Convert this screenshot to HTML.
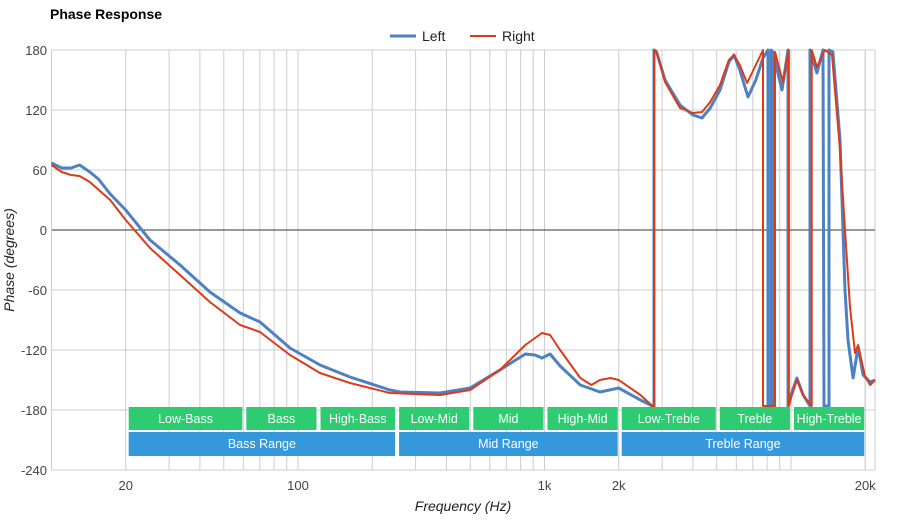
<!DOCTYPE html>
<html><head><meta charset="utf-8"><style>
body{margin:0;background:#fff;font-family:"Liberation Sans",sans-serif}
svg text{font-family:"Liberation Sans",sans-serif}
</style></head><body>
<svg id="chart" width="900" height="520" xmlns="http://www.w3.org/2000/svg">
<text x="50" y="19" font-size="14" font-weight="bold" fill="#000">Phase Response</text>
<g>
<line x1="390" y1="36" x2="416" y2="36" stroke="#4e81c1" stroke-width="3"/>
<text x="422" y="41" font-size="14" fill="#222">Left</text>
<line x1="470" y1="36" x2="496" y2="36" stroke="#dd3a17" stroke-width="2"/>
<text x="502" y="41" font-size="14" fill="#222">Right</text>
</g>
<g id="grid"></g>
<g id="series"></g>
<g id="bands"></g>
<text x="14" y="260" font-size="14" font-style="italic" fill="#222" text-anchor="middle" transform="rotate(-90 14 260)">Phase (degrees)</text>
<text x="463" y="511" font-size="14" font-style="italic" fill="#222" text-anchor="middle">Frequency (Hz)</text>
</svg>
<script>
const yTicks=[180,120,60,0,-60,-120,-180,-240];
const xTickLabels=[[20,"20"],[100,"100"],[1000,"1k"],[2000,"2k"],[20000,"20k"]];
const leftFreq=[10,11,12,13,14.3,15.5,17.3,20,25.1,33.2,43.9,58.2,70.1,92.8,122.8,162.5,236,259,377,499,659,836,915,977,1054,1157,1397,1680,2000,2450,2740,2782,2782,2850,3083,3545,4000,4355,4700,5150,5600,5870,6200,6695,7200,7700,8070,8070,8300,8300,8450,8450,8500,8500,9190,9720,9720,10000,10570,11200,11940,11940,12740,13480,13610,14260,14260,14790,15800,16560,17030,17860,18710,19610,20930,21930];
const leftPhase=[67,62,62,65,58,51,36,20,-10,-35,-62,-83,-92,-118,-135,-147,-160,-162,-163,-158,-140,-124,-125,-128,-124,-136,-155,-162,-158,-170,-176,-178,180,178,150,125,115,112,122,140,168,175,160,133,150,172,180,-176,-176,180,178,-176,-176,175,140,180,-176,-165,-148,-165,-176,180,157,180,-176,-176,180,178,90,-60,-110,-148,-117,-145,-152,-150];
const rightFreq=[10,11,12,13,14.3,17.3,20,25.1,33.2,43.9,58.2,70.1,92.8,122.8,162.5,236,377,499,659,836,977,1054,1157,1397,1550,1680,1850,2000,2450,2740,2782,2782,2850,3083,3545,4000,4355,4700,5150,5600,5870,6200,6633,7200,7700,7700,8610,8610,9270,9810,9810,10000,10570,11200,12130,12130,12740,13730,14660,15800,16560,17350,18180,18710,19950,20930,21930];
const rightPhase=[65,58,55,54,48,30,10,-18,-45,-72,-95,-102,-125,-143,-153,-163,-165,-160,-140,-115,-103,-105,-120,-148,-155,-150,-148,-150,-165,-176,-178,180,178,148,122,117,118,128,145,170,175,165,147,165,180,-176,-176,178,148,180,-176,-168,-150,-165,-176,180,163,180,175,80,0,-77,-123,-115,-146,-155,-150];
const bandsTop=[["Low-Bass",20,60],["Bass",60,120],["High-Bass",120,250],["Low-Mid",250,500],["Mid",500,1000],["High-Mid",1000,2000],["Low-Treble",2000,5000],["Treble",5000,10000],["High-Treble",10000,20000]];
const bandsBottom=[["Bass Range",20,250],["Mid Range",250,2000],["Treble Range",2000,20000]];
const X0=52,X1=875,Y0=50,Y1=470;
function xs(f){return 298+246.5*Math.log10(f/100);}
function ys(v){return 230-v;}
const NS="http://www.w3.org/2000/svg";
function mk(tag,attrs,parent){const e=document.createElementNS(NS,tag);for(const k in attrs)e.setAttribute(k,attrs[k]);parent.appendChild(e);return e;}
const grid=document.getElementById('grid');
for(let d=10;d<=10000;d*=10){for(let m=1;m<=9;m++){const f=d*m;if(f>22000)break;const l=mk('line',{x1:xs(f),x2:xs(f),y1:Y0,y2:Y1,stroke:'#ccc','stroke-width':1},grid);

}}
[20000].forEach(f=>{const l=mk('line',{x1:xs(f),x2:xs(f),y1:Y0,y2:Y1,stroke:'#ccc'},grid);

});
mk('line',{x1:X1,x2:X1,y1:Y0,y2:Y1,stroke:'#ccc'},grid);
yTicks.forEach(v=>{const l=mk('line',{x1:X0,x2:X1,y1:ys(v),y2:ys(v),stroke:v===0?'#333':'#ccc'},grid);


const t=mk('text',{x:47,y:ys(v)+5,'font-size':13,fill:'#444','text-anchor':'end'},grid);t.textContent=v;

});
xTickLabels.forEach(([f,s])=>{const t=mk('text',{x:xs(f),y:490,'font-size':13,fill:'#444','text-anchor':'middle'},grid);t.textContent=s;

});
const ser=document.getElementById('series');
function line(F,P,color,w,name){const pts=F.map((f,i)=>xs(f).toFixed(1)+','+ys(P[i]).toFixed(1)).join(' ');
const p=mk('polyline',{points:pts,fill:'none',stroke:color,'stroke-width':w,'stroke-linejoin':'round'},ser);

}
line(leftFreq,leftPhase,'#4e81c1',3,'left-series');
line(rightFreq,rightPhase,'#dd3a17',2,'right-series');
const bands=document.getElementById('bands');
function band(arr,y,h,color,name){arr.forEach(([lab,a,b])=>{const x1=xs(a)+3,x2=xs(b)-1;
const r=mk('rect',{x:x1,y:y,width:x2-x1,height:h,fill:color},bands);


const t=mk('text',{x:(x1+x2)/2,y:y+16,'font-size':12.5,fill:'#fff','text-anchor':'middle'},bands);t.textContent=lab;

});}
band(bandsTop,407,23,'#2ecc71','band-segment');
band(bandsBottom,432,24,'#3498db','range-segment');
</script>
</body></html>
